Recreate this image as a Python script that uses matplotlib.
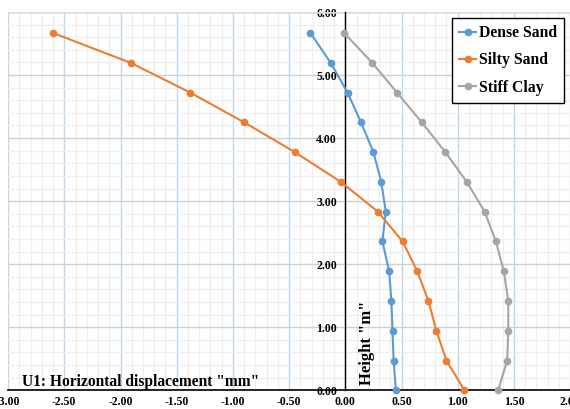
import matplotlib.pyplot as plt
from matplotlib.ticker import MultipleLocator, FormatStrFormatter

# height along the wall (m)
heights = [0.0, 0.472, 0.944, 1.417, 1.889, 2.361, 2.833, 3.306, 3.778, 4.25, 4.722, 5.194, 5.667]

# horizontal displacement U1 (mm)
dense_sand = [0.45, 0.43, 0.42, 0.41, 0.39, 0.33, 0.36, 0.32, 0.25, 0.14, 0.02, -0.13, -0.31]
silty_sand = [1.06, 0.90, 0.81, 0.74, 0.64, 0.51, 0.29, -0.04, -0.45, -0.90, -1.38, -1.91, -2.60]
stiff_clay = [1.36, 1.44, 1.45, 1.45, 1.41, 1.34, 1.24, 1.08, 0.89, 0.68, 0.46, 0.24, -0.01]

labels = ['Dense Sand', 'Silty Sand', 'Stiff Clay']
colors = ['#5B9BD5', '#ED7D31', '#A5A5A5']

plt.rcParams['font.family'] = ['Liberation Serif', 'DejaVu Serif']
plt.rcParams['font.weight'] = 'bold'

fig = plt.figure(figsize=(5.70, 4.09), dpi=100)
ax = fig.add_axes([8.1 / 570, 18.7 / 409, 562 / 570, 378.3 / 409])

for xs, lab, c in zip([dense_sand, silty_sand, stiff_clay], labels, colors):
    ax.plot(xs, heights, color=c, lw=1.5, marker='o', markersize=4.5,
            label=lab, zorder=3, clip_on=False)

ax.set_xlim(-3, 2)
ax.set_ylim(0, 6)

# grid
ax.xaxis.set_major_locator(MultipleLocator(0.5))
ax.xaxis.set_minor_locator(MultipleLocator(0.1))
ax.yaxis.set_major_locator(MultipleLocator(1.0))
ax.yaxis.set_minor_locator(MultipleLocator(0.2))
ax.grid(which='minor', color='#EFEFEF', lw=0.9)
ax.grid(which='major', axis='x', color='#BDD7EE', lw=1.0)
ax.grid(which='major', axis='y', color='#D0D0D0', lw=1.0)
ax.axhline(6, color='#DCDCDC', lw=1.8, zorder=1)
ax.set_axisbelow(True)

ax.xaxis.set_major_formatter(FormatStrFormatter('%.2f'))
ax.yaxis.set_major_formatter(FormatStrFormatter('%.2f'))

for s in ['top', 'right']:
    ax.spines[s].set_visible(False)
ax.spines['left'].set_position(('data', 0))
ax.spines['bottom'].set_position(('data', 0))
ax.spines['left'].set_color('black')
ax.spines['bottom'].set_color('black')
ax.spines['left'].set_linewidth(1.0)
ax.spines['bottom'].set_linewidth(1.2)

ax.tick_params(which='both', length=0)
ax.tick_params(axis='x', labelsize=8.5, pad=4)
ax.tick_params(axis='y', labelsize=8.5, pad=6)

ax.text(-2.88, 0.07, 'U1: Horizontal displacement "mm"', fontsize=11.2,
        fontweight='bold', ha='left', va='baseline')
ax.text(0.19, 0.08, 'Height "m"', fontsize=12, fontweight='bold',
        rotation=90, ha='center', va='bottom')

leg = ax.legend(loc='upper right', bbox_to_anchor=(0.989, 0.984),
                borderaxespad=0, fontsize=11.3, frameon=True, fancybox=False,
                framealpha=1, edgecolor='black', handlelength=1.1,
                handletextpad=0.15, labelspacing=0.72, borderpad=0.45)
leg.get_frame().set_linewidth(1.0)
leg.set_zorder(5)

fig.savefig('out.png', dpi=100)
